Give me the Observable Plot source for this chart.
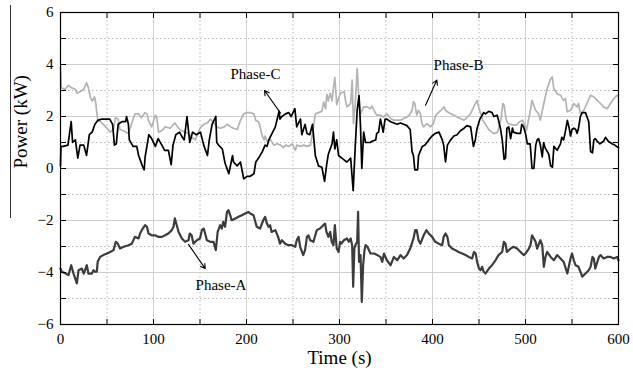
<!DOCTYPE html>
<html>
<head>
<meta charset="utf-8">
<script src="https://cdn.jsdelivr.net/npm/d3@7"></script>
<script src="https://cdn.jsdelivr.net/npm/@observablehq/plot@0.6"></script>
<style>
  html, body { margin: 0; padding: 0; background: white; }
  svg text { font-family: "Liberation Serif", "Times New Roman", serif; }
</style>
</head>
<body>
<div id="chart"></div>
<script>
// ---- data: [time (s), power (kW)] ----
const phaseA = [[0,-3.85],[1.4,-3.97],[5,-4.03],[8.6,-4.1],[11.5,-3.72],[14,-4.04],[17.6,-4.42],[19.4,-3.91],[23,-3.85],[25,-4.04],[28.3,-3.72],[30,-4.04],[33.7,-4.04],[35.5,-3.91],[37,-3.97],[39,-3.97],[40,-3.59],[42.6,-3.4],[46,-3.33],[50,-3.27],[53.4,-3.21],[57,-3.14],[59.5,-2.82],[61.6,-2.89],[64,-3.08],[68,-3.01],[73,-2.95],[76.7,-2.89],[80,-2.63],[84,-2.69],[85.6,-2.5],[87.4,-2.37],[91,-2.18],[93,-2.24],[94.6,-2.5],[98,-2.57],[101.8,-2.57],[105.4,-2.63],[109,-2.63],[112.5,-2.57],[116,-2.5],[119.7,-2.37],[121.5,-2.24],[123,-1.92],[125,-2.18],[127,-2.44],[130.5,-2.69],[134,-2.82],[137.6,-2.76],[139,-2.5],[141,-2.57],[143,-2.89],[146.6,-2.76],[150,-2.69],[152,-2.37],[154,-2.31],[155.5,-2.5],[157.4,-2.76],[161,-2.82],[164.5,-2.82],[167,-3.14],[169,-2.44],[171.7,-2.18],[173.5,-2.31],[175,-2.05],[177,-2.24],[179,-1.67],[180.6,-1.6],[182.5,-1.8],[184,-1.99],[188,-1.92],[191.4,-1.86],[195,-1.8],[198.6,-1.73],[202,-1.67],[204,-1.73],[207.6,-1.8],[209,-1.99],[211,-2.24],[214.6,-2.31],[218,-1.99],[220,-1.86],[222,-2.12],[223.7,-2.24],[225.4,-2.18],[227,-2.44],[231,-2.37],[234,-2.63],[236,-2.89],[238,-2.76],[241.6,-2.89],[245,-2.95],[248.8,-2.95],[252.4,-3.01],[254,-2.76],[256,-2.63],[257.7,-3.01],[261,-3.33],[263,-3.14],[265,-2.63],[266.7,-2.57],[268.5,-2.76],[272,-2.82],[274,-2.57],[275.6,-2.37],[279,-2.31],[282.6,-2.18],[284.5,-2.12],[286,-2.44],[288,-2.63],[290,-2.44],[291.6,-2.82],[293.5,-2.95],[295,-2.18],[297,-3.08],[299,-3.21],[300.6,-2.82],[302,-2.89],[304.7,-2.76],[308,-2.69],[310,-2.82],[312,-2.69],[313.6,-2.95],[314.7,-4.55],[316,-3.08],[317,-2.95],[319,-2.82],[320,-1.67],[321,-3.59],[322.6,-3.33],[324,-5.13],[325.4,-3.72],[326.9,-3.14],[328,-2.95],[330,-3.01],[333.3,-3.27],[337,-3.27],[340.6,-3.33],[344,-3.4],[346,-3.59],[347.8,-3.27],[351,-3.53],[355,-3.72],[358.5,-3.4],[362,-3.53],[365.6,-3.33],[369,-3.46],[372.6,-3.33],[376,-3.08],[379.6,-2.69],[381.4,-2.37],[383,-2.37],[385,-2.76],[387,-2.89],[390.5,-2.57],[393.5,-2.37],[396,-2.5],[399.6,-2.63],[403,-2.82],[406.8,-2.89],[410.4,-2.95],[412,-2.63],[414,-2.5],[416,-2.63],[417.6,-2.95],[421,-3.08],[424.7,-3.14],[428,-3.21],[431.9,-3.27],[435.5,-3.33],[439,-3.4],[442.6,-3.46],[444.6,-3.21],[446.4,-3.27],[448,-3.59],[450,-3.85],[451.6,-3.91],[453.4,-3.78],[455,-3.97],[457,-4.04],[460.6,-3.85],[464,-3.72],[467.7,-3.53],[471,-3.33],[474.9,-3.21],[476.7,-2.82],[478.5,-2.89],[480,-3.21],[483.9,-3.08],[487,-3.01],[491,-3.08],[494.6,-3.21],[498,-3.33],[500,-3.27],[503.6,-3.08],[505.4,-2.95],[507,-2.57],[509,-2.69],[510.8,-2.82],[512.5,-3.08],[516,-2.76],[518,-2.95],[519.7,-3.78],[521.5,-3.4],[523.3,-3.21],[527,-3.4],[530.5,-3.53],[534,-3.33],[537.6,-3.46],[541,-3.59],[545,-4.04],[548.4,-3.46],[550,-3.27],[552,-3.53],[553.8,-3.72],[557,-3.78],[559,-3.97],[561,-4.16],[564.5,-4.04],[568,-3.91],[570,-3.78],[572,-3.4],[573.5,-3.46],[575,-3.85],[579,-3.4],[580.6,-3.33],[584,-3.46],[587.8,-3.4],[591.4,-3.4],[595,-3.46],[598.6,-3.4],[600,-3.53]];

const phaseB = [[0,3.9],[1,3.1],[5,3.05],[8.6,3.2],[12,3.1],[16,3.05],[17.6,2.9],[21,2.95],[25,3.05],[28,3.3],[30,3.1],[32,2.75],[34,2.6],[36.6,2.75],[38,2.5],[40,1.85],[43,1.8],[46,1.7],[50,1.55],[53.5,1.4],[57,1.5],[59,1.95],[62,1.9],[64,1.5],[68,1.45],[73,1.35],[76.7,1.75],[80,2.1],[84,2.1],[87,1.95],[91,2.15],[93,2.1],[94.6,1.85],[98,1.6],[102,2.05],[103.6,1.95],[105.4,1.4],[109,1.45],[112.5,1.6],[118,1.55],[121.5,1.7],[123,1.75],[127,1.55],[130.5,1.45],[134,1.4],[137.6,1.35],[141,1.2],[145,1.1],[150,1.55],[154,1.7],[158,1.75],[161,1.9],[165,1.75],[168,1.6],[172,1.55],[176,1.6],[179,1.7],[183,1.6],[186,1.55],[190,1.5],[193.5,1.85],[197,2.1],[200.5,2.15],[204,2.15],[208,2.1],[210,1.85],[213,1.8],[215,1.55],[217,1.25],[219,1.1],[220,1.25],[222,1.05],[226,1.1],[229.4,0.9],[233,0.95],[236.6,0.9],[240,0.8],[242,0.9],[245.5,0.85],[249,0.95],[252.7,0.7],[254,0.9],[258,0.85],[261.6,0.9],[265,0.85],[268.8,0.9],[271.6,1.5],[274,2.1],[277.6,2.15],[281,2.2],[283,2.55],[285,2.3],[286.5,2.85],[288,2.6],[290,2.9],[292,2.6],[293.5,3.1],[295,3.5],[297,2.45],[299,2.7],[301,2.9],[305,2.95],[306.5,2.6],[308,2.37],[312,2.5],[313.6,3.4],[315,1.73],[317,2.5],[319,3.85],[321,2.6],[322.6,2.1],[326,2.37],[330,2.37],[333,2.3],[335,2.4],[337,2.24],[340,2.05],[344,2.05],[347,1.98],[351,2.1],[355,1.92],[358.5,1.86],[362,1.86],[365.6,1.86],[369,1.92],[372.6,1.98],[375,2.05],[378,2.24],[379.5,2.56],[381,2.5],[383,2.05],[385,2.24],[387,2.1],[388.7,1.73],[390.5,1.6],[394,1.73],[397.8,1.6],[401,1.73],[403,2.0],[405,2.11],[409,2.24],[412.5,2.37],[414,2.24],[416,2.18],[419.5,2.11],[423,2.05],[426.6,1.98],[430,1.92],[434,1.86],[437.6,1.98],[441,2.11],[445,2.43],[448,2.62],[450,2.3],[452,2.11],[454,1.86],[457.5,1.67],[461,1.47],[466,1.34],[470,1.4],[474,1.98],[475.6,2.5],[477,2.43],[479,1.92],[481,1.73],[486.7,1.67],[490,1.67],[493.6,1.8],[497,1.86],[501,1.47],[505,2.18],[507,2.62],[510.8,2.24],[514,2.11],[516,1.86],[519.7,2.5],[523.3,3.07],[526.9,3.45],[528.7,3.52],[530.5,3.07],[534,2.88],[537.6,2.82],[541,2.62],[543,2.69],[544.8,2.18],[548.4,2.24],[552,2.5],[555.5,2.37],[557,2.5],[559,2.11],[562.7,2.24],[566,2.5],[569.9,2.82],[573.5,2.75],[577,2.62],[580.6,2.5],[584,2.37],[587.8,2.3],[591.4,2.5],[595,2.69],[598.6,2.82],[600,2.75]];

const phaseC = [[0,0.1],[0.5,0.85],[3,0.85],[8,0.9],[11.5,1.8],[13,1.0],[16,1.1],[18.6,0.4],[21,0.9],[25,0.9],[28,0.5],[31,1.3],[34,1.4],[37,1.7],[40,1.85],[44,1.9],[50,1.9],[53,1.9],[56,1.7],[58,0.9],[60,0.95],[62,1.7],[66,1.8],[70,1.8],[71,2.0],[73,1.7],[74,1.1],[78,0.85],[82,0.85],[84,0.5],[88,0.1],[90,-0.05],[91,0.45],[95,1.3],[98,1.15],[102,0.85],[105,1.15],[109,0.9],[112,0.7],[116,0.7],[119,0.15],[121,0.9],[124,1.3],[128,1.4],[131,1.2],[133,1.1],[136,2.0],[139,1.0],[142,1.4],[146,1.3],[150.5,1.4],[154,0.9],[158,0.5],[160,1.1],[163,1.7],[167,2.0],[168,1.0],[170,0.9],[174,0.75],[177,0.2],[181,-0.2],[185,0.5],[186,0.25],[190,0.1],[193.5,0.25],[197,-0.4],[200.5,-0.3],[204,-0.3],[208,-0.2],[210,0.25],[213,0.4],[217,0.65],[220,0.9],[222,0.85],[224,1.1],[227.5,1.35],[231,1.6],[235,2.2],[236,1.9],[238,2.0],[242,2.1],[245.5,2.15],[248,2.0],[252,2.3],[254,1.6],[258,1.9],[259.5,1.3],[263,1.7],[265,1.35],[268,1.3],[271,1.7],[274,0.5],[277.5,0.1],[281,0.05],[284,-0.5],[286,0.1],[288,0.55],[292,0.95],[293.5,1.4],[295,0.75],[297,1.1],[299,0.5],[302.5,0.4],[306,0.3],[308,0.25],[312,0.4],[314.7,-0.85],[317,0.9],[319,2.25],[321,2.8],[322.5,1.7],[324,0.0],[326,1.4],[328,1.0],[330,1.0],[333,1.0],[335,1.05],[339,1.1],[340,1.35],[342,1.4],[344,1.9],[347,1.4],[349,1.9],[351,1.9],[355,1.8],[358.5,1.75],[362,1.7],[365.5,1.75],[369,1.7],[372.5,1.65],[376,1.5],[378,0.65],[379.5,0.5],[381,-0.05],[384,-0.05],[385,0.5],[389,0.85],[392,0.9],[396,1.1],[399.5,1.25],[403,1.35],[407,1.4],[410.5,1.1],[412,0.9],[414,0.25],[416,0.9],[419.5,1.1],[423,1.25],[426.5,1.3],[430,1.45],[434,1.55],[437,1.65],[441,1.6],[444,0.85],[446,1.1],[448,1.55],[451,1.9],[455,2.15],[457,2.1],[460.5,2.2],[464,2.15],[466,2.0],[469.5,2.05],[471,1.85],[473,1.55],[475,1.1],[477,0.35],[478.5,0.4],[480,1.55],[482,1.6],[484,1.15],[486,1.55],[487,1.4],[491,1.35],[494.6,1.35],[496,1.7],[498,1.6],[500,1.35],[502,0.95],[505,0.95],[507,0.0],[509,0.0],[511,0.9],[512.5,1.1],[514,1.15],[516,0.9],[518,0.45],[519.5,1.0],[521,0.8],[525,0.55],[527,0.1],[529,0.05],[530.5,0.85],[534,0.7],[537.6,0.95],[539,1.2],[541,1.1],[543,1.45],[545,1.85],[547,1.55],[548.4,1.25],[550,1.5],[552,1.55],[554,1.5],[555.5,1.35],[557,1.55],[559,2.0],[561,2.15],[564.5,2.15],[566,2.0],[568,1.8],[570,0.65],[572,0.6],[573.5,1.1],[575,1.15],[577,1.05],[580,0.95],[584,1.05],[586,1.2],[589,1.05],[593,0.95],[596,0.9],[600,0.8]];

// annotation labels and arrows (data coordinates)
const labelNames = ["Phase-A", "Phase-B", "Phase-C"];
const labelT = [172.6, 428, 209.7];
const labelV = [-4.49, 3.97, 3.63];
const arrowFromT = [137.6, 392.5, 236.6];
const arrowFromV = [-2.92, 2.43, 2.13];
const arrowToT = [155.6, 404.7, 219.4];
const arrowToV = [-3.85, 3.4, 3.0];

// axis ticks
const xLabelTicks = [0, 100, 200, 300, 400, 500, 600];
const xMajorGrid = [100, 200, 300, 400, 500];
const xMinorGrid = [50, 150, 250, 350, 450, 550];
const xTickMarks = [0, 50, 100, 150, 200, 250, 300, 350, 400, 450, 500, 550, 600];
const yLabelTicks = [-6, -4, -2, 0, 2, 4, 6];
const yMajorGrid = [-4, -2, 0, 2, 4];
const yMinorGrid = [-5, -3, -1, 1, 3, 5];
const yTickMarks = [-6, -5, -4, -3, -2, -1, 0, 1, 2, 3, 4, 5, 6];
const xTitle = "Time (s)";
const yTitle = "Power (kW)";

const serif = "Liberation Serif";

const annotations = labelNames.map((name, i) => ({
  name, t: labelT[i], v: labelV[i],
  t1: arrowFromT[i], v1: arrowFromV[i], t2: arrowToT[i], v2: arrowToV[i]
}));

const series = [
  {data: phaseB, stroke: "#b3b3b3", w: 1.7},
  {data: phaseA, stroke: "#3c3c3c", w: 2.2},
  {data: phaseC, stroke: "#000000", w: 1.7}
];

const chart = Plot.plot({
  width: 633,
  height: 380,
  marginLeft: 60,
  marginRight: 15,
  marginTop: 12,
  marginBottom: 56,
  style: {fontFamily: serif, fontSize: "14px", background: "white", color: "black"},
  x: {domain: [0, 600]},
  y: {domain: [-6, 6]},
  marks: [
    Plot.gridX(xMinorGrid, {stroke: "#b8b8b8", strokeOpacity: 1, strokeDasharray: "1.5,2.5"}),
    Plot.gridY(yMinorGrid, {stroke: "#b8b8b8", strokeOpacity: 1, strokeDasharray: "1.5,2.5"}),
    Plot.gridX(xMajorGrid, {stroke: "#cfcfcf", strokeOpacity: 1}),
    Plot.gridY(yMajorGrid, {stroke: "#cfcfcf", strokeOpacity: 1}),
    ...series.map(s => Plot.line(s.data, {x: d => d[0], y: d => d[1], stroke: s.stroke, strokeWidth: s.w, strokeLinejoin: "round"})),
    Plot.frame({stroke: "black", strokeWidth: 1.2}),
    // inward tick marks on all four sides
    Plot.axisX(xTickMarks, {anchor: "bottom", tickSize: 5, dy: -5, tickFormat: () => "", label: null}),
    Plot.axisX(xTickMarks, {anchor: "top", tickSize: 5, dy: 5, tickFormat: () => "", label: null}),
    Plot.axisY(yTickMarks, {anchor: "left", tickSize: 6, dx: 6, tickFormat: () => "", label: null}),
    Plot.axisY(yTickMarks, {anchor: "right", tickSize: 6, dx: -6, tickFormat: () => "", label: null}),
    // tick labels
    Plot.axisX(xLabelTicks, {anchor: "bottom", tickSize: 0, tickPadding: 9, fontSize: 15, fontFamily: serif, label: null}),
    Plot.axisY(yLabelTicks, {anchor: "left", tickSize: 0, tickPadding: 7, fontSize: 15, fontFamily: serif, label: null}),
    // axis titles
    Plot.text([xTitle], {frameAnchor: "bottom", dy: 39, fontSize: 19, fontFamily: serif, text: d => d}),
    Plot.text([yTitle], {frameAnchor: "left", dx: -40, rotate: -90, fontSize: 19, fontFamily: serif, text: d => d}),
    // annotations
    Plot.arrow(annotations, {x1: "t1", y1: "v1", x2: "t2", y2: "v2", stroke: "black", strokeWidth: 1.1, headLength: 7}),
    Plot.text(annotations, {x: "t", y: "v", text: "name", fontSize: 15, fontFamily: serif})
  ]
});

// decorative vertical stroke beside the y title (present in the original)
d3.select(chart).append("line")
  .attr("x1", 10.5).attr("x2", 10.5).attr("y1", 5).attr("y2", 218)
  .attr("stroke", "#333").attr("stroke-width", 1);

document.getElementById("chart").appendChild(chart);
</script>
</body>
</html>
